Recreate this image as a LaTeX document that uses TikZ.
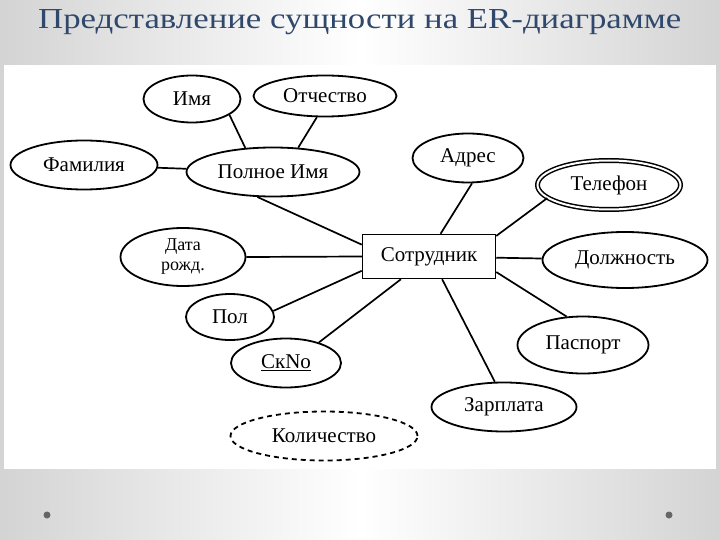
\documentclass[tikz,border=0pt]{standalone}
\usepackage{fontspec}
\setmainfont{Liberation Serif}
\usetikzlibrary{shapes.geometric}
\definecolor{titleblue}{RGB}{48,72,108}

\begin{document}
\begin{tikzpicture}[
        x=1pt, y=-1pt,
        attr/.style={ellipse, draw=black, line width=1.8pt, inner sep=0pt, font=\fontsize{21}{22}\selectfont},
        ent/.style={rectangle, draw=black, line width=1.5pt, minimum width=133pt, minimum height=44pt, font=\fontsize{21}{22}\selectfont},
        link/.style={line width=1.7pt}
    ]
    \useasboundingbox (0,0) rectangle (720,540);

    % фон слайда
    \shade[left color=black!17, right color=black!17, middle color=white] (0,0) rectangle (720,540);
    \fill[white] (4,65) rectangle (716,469);
    \fill[black!60] (47,515) circle (3.5);
    \fill[black!60] (669,515) circle (3.5);
    \node[anchor=base west, inner sep=0pt, text=titleblue, font=\fontsize{29}{30}\selectfont] (title) at (38,29) {\scalebox{1.2}[1]{Представление сущности на ER-диаграмме}};

    % сущность
    \node[ent] (emp) at (429,256.5) {Сотрудник};

    % атрибуты имени
    \node[attr, minimum width=97pt, minimum height=47pt] (name) at (192,99) {Имя};
    \node[attr, minimum width=143pt, minimum height=41pt] (patr) at (325,96) {Отчество};
    \node[attr, minimum width=147pt, minimum height=49pt] (fam) at (84,165) {Фамилия};
    \node[attr, minimum width=173pt, minimum height=49pt] (full) at (273,172) {Полное Имя};

    % остальные атрибуты
    \node[attr, minimum width=111pt, minimum height=49pt] (addr) at (468,158) {Адрес};
    \node[attr, double, line width=1.5pt, double distance=2pt, minimum width=143pt, minimum height=49pt] (phone) at (609,185) {Телефон};
    \node[attr, minimum width=125pt, minimum height=58pt, align=center, font=\fontsize{18}{20}\selectfont] (dob) at (183,257) {Дата\\рожд.};
    \node[attr, minimum width=165pt, minimum height=56pt] (pos) at (625,260) {Должность};
    \node[attr, minimum width=88pt, minimum height=46pt] (pol) at (230,317) {Пол};
    \node[attr, minimum width=131pt, minimum height=57pt] (pass) at (583,345) {Паспорт};
    \node[attr, minimum width=110pt, minimum height=49pt] (snum) at (286,363) {\underline{СкNo}};
    \node[attr, minimum width=145pt, minimum height=49pt] (sal) at (504,407) {Зарплата};
    \node[attr, dash pattern=on 5pt off 4pt, minimum width=187pt, minimum height=49pt] (qty) at (324,436) {Количество};

    % связи
    \draw[link] (name.-23) -- (full.139);
    \draw[link] (patr.-111) -- (full.44);
    \draw[link] (fam) -- (full);
    \draw[link] (full.-122) -- (emp.170);
    \draw[link] (addr.-81) -- (emp.63);
    \draw[link] (phone.192) -- (emp.17);
    \draw[link] (dob.east) -- (emp.west);
    \draw[link] (pol.8) -- (emp.-168);
    \draw[link] (snum.32) -- (emp.-141);
    \draw[link] (emp) -- (pos);
    \draw[link] (emp.-13) -- (pass.120);
    \draw[link] (emp.-60) -- (sal.110);

\end{tikzpicture}
\end{document}
